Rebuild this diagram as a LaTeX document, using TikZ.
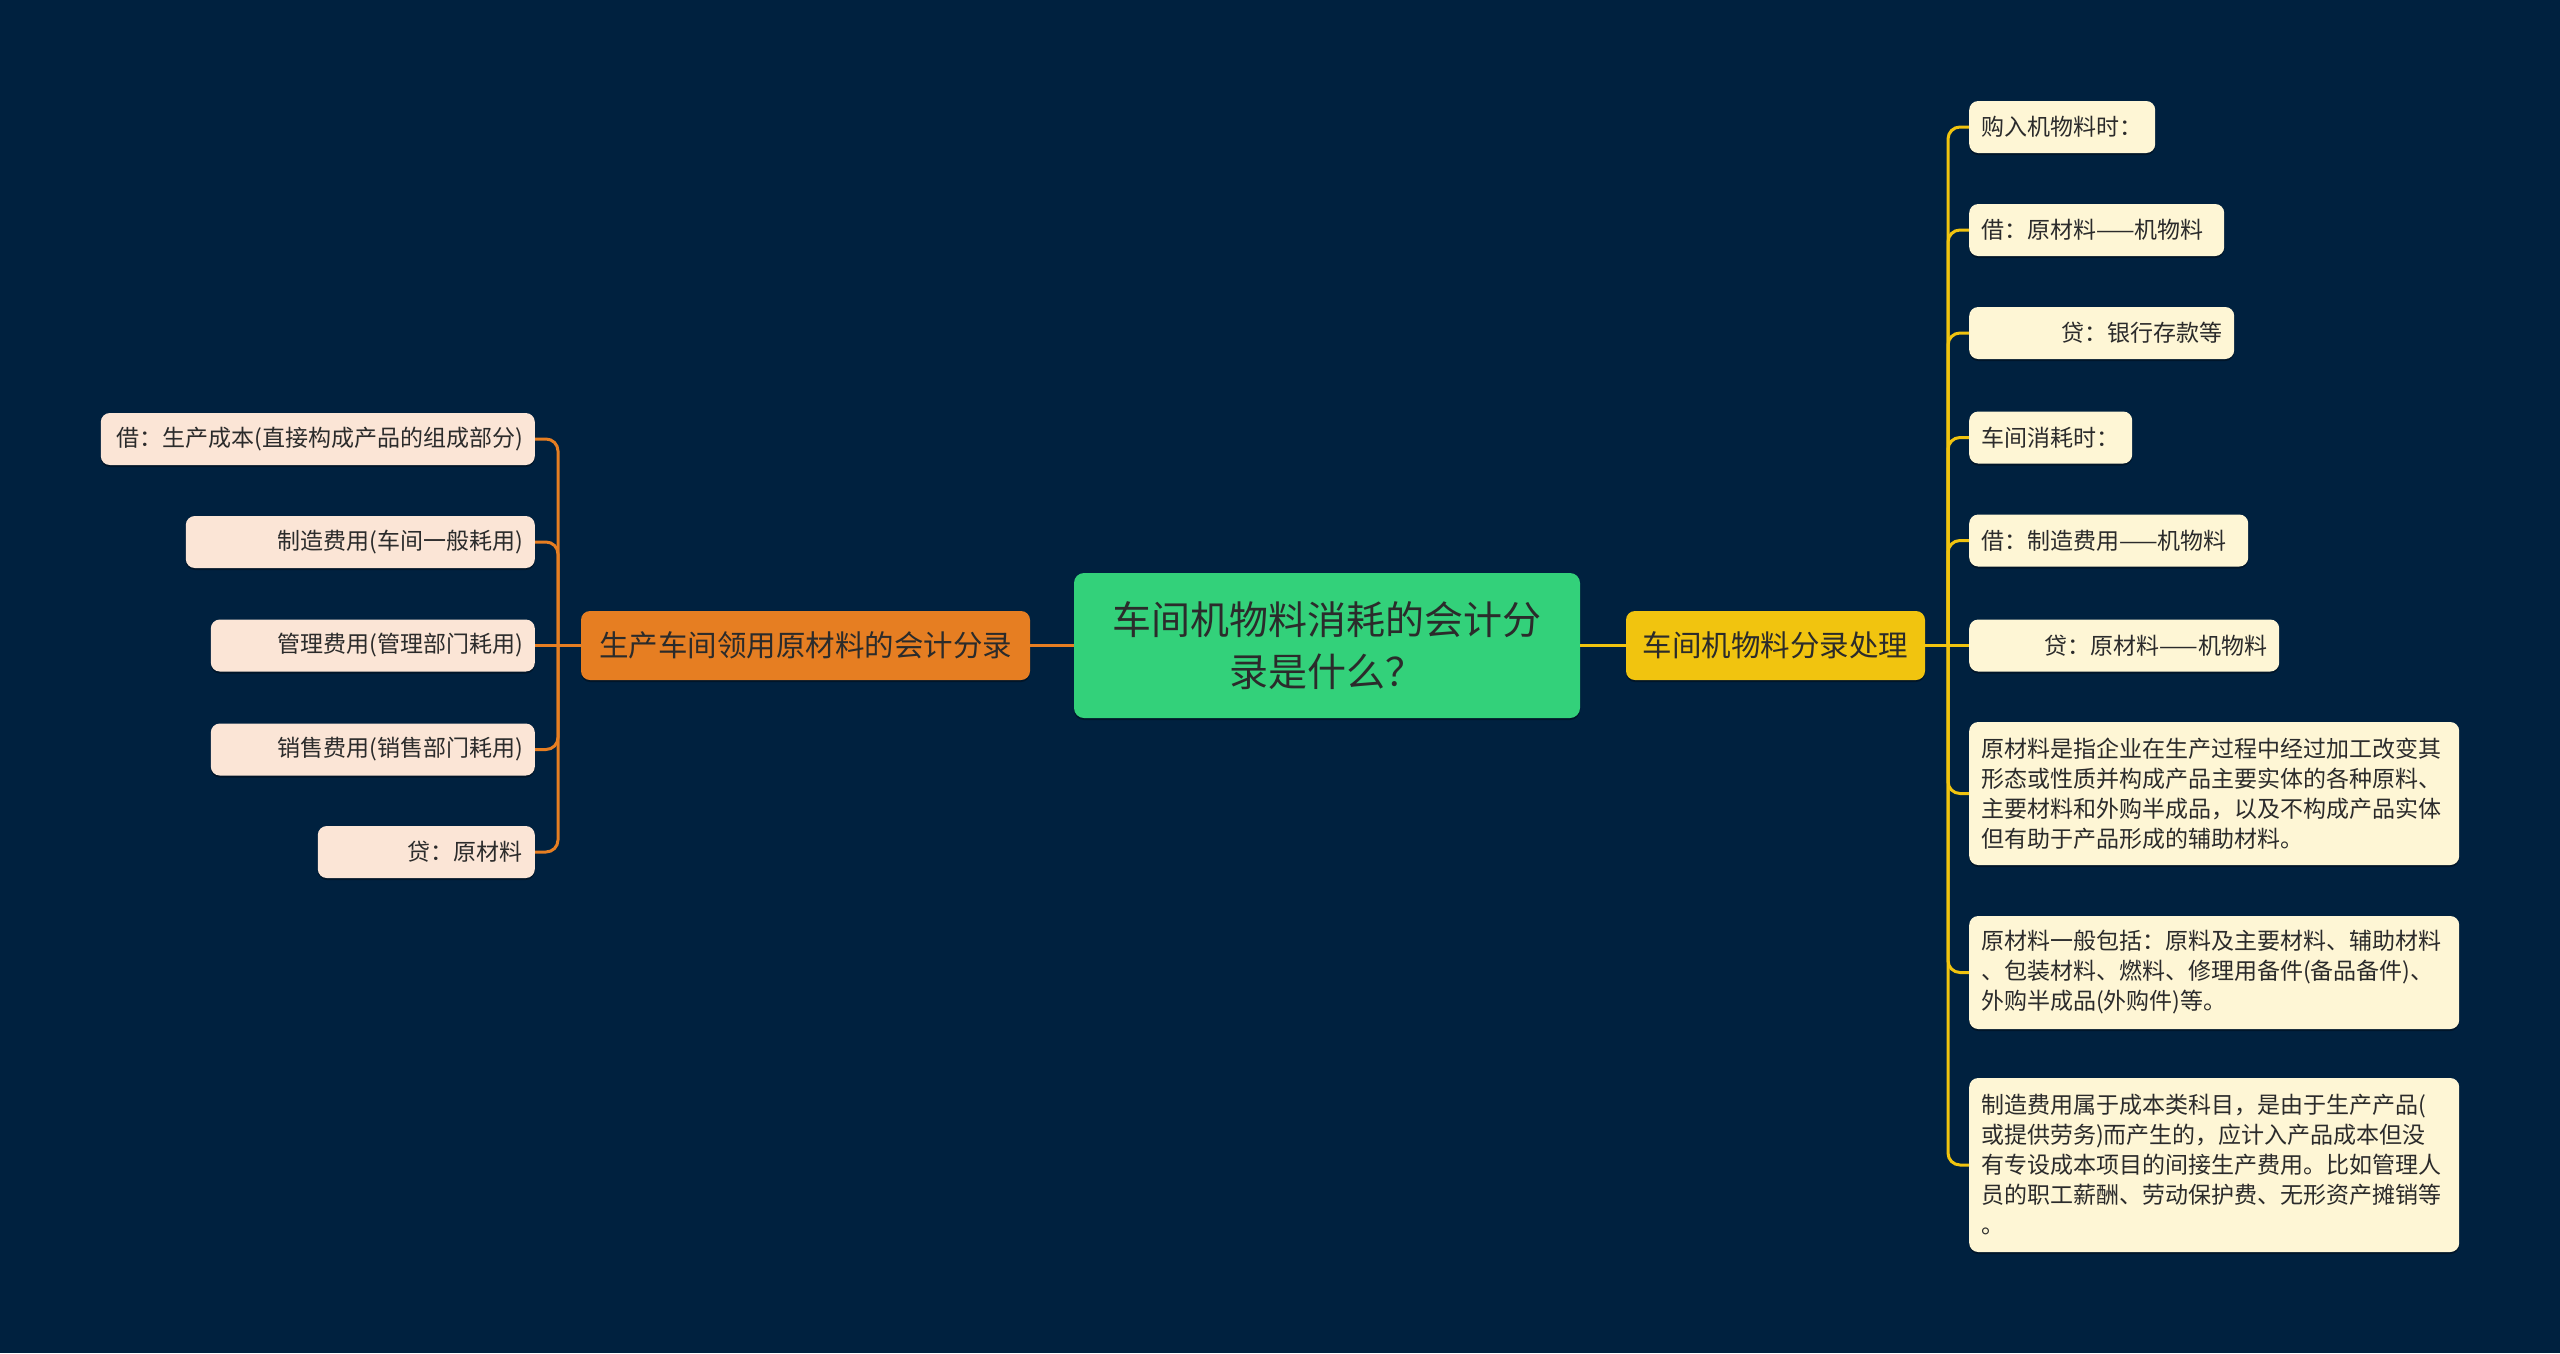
\documentclass[tikz,border=0pt]{standalone}
\usepackage{fontspec}
\setmainfont{Noto Sans CJK SC}
\usetikzlibrary{shadows}
\definecolor{bg}{HTML}{00213F}
\definecolor{cgreen}{HTML}{33D17A}
\definecolor{cyellow}{HTML}{F1C40F}
\definecolor{corange}{HTML}{E67E22}
\definecolor{lfill}{HTML}{FBE5D6}
\definecolor{rfill}{HTML}{FEF6D5}
\definecolor{txt}{HTML}{2B2B2B}
\begin{document}
\begin{tikzpicture}[x=1pt,y=-1pt,
  box/.style={rounded corners=9pt, inner xsep=12pt, inner ysep=0pt, text=txt,
    drop shadow={shadow xshift=0pt, shadow yshift=-2pt, opacity=0.35, fill=black}},
  lleaf/.style={box, fill=lfill, anchor=east, minimum height=52pt, align=right, font=\fontsize{23}{30}\selectfont},
  rleaf/.style={box, fill=rfill, anchor=west, minimum height=52pt, align=left, font=\fontsize{23}{30}\selectfont},
  mid/.style={box, minimum height=69pt, inner xsep=16pt, align=center, font=\fontsize{29.5}{36}\selectfont},
  oline/.style={draw=corange, line width=3pt},
  yline/.style={draw=cyellow, line width=3pt},
]
\useasboundingbox[fill=bg] (0,0) rectangle (2560,1353);

% center
\node[box, fill=cgreen, rounded corners=10pt, minimum width=506pt, minimum height=145pt,
  text width=440pt, align=center, font=\fontsize{39}{52}\selectfont] (C) at (1327,645.5)
  {车间机物料消耗的会计分\\录是什么？};

% main branches
\node[mid, fill=corange, text width=417pt] (O) at (805.5,645.5) {生产车间领用原材料的会计分录};
\node[mid, fill=cyellow, text width=267pt] (Y) at (1775.5,645.5) {车间机物料分录处理};

\coordinate (lt) at (558,645.5);
\coordinate (rt) at (1948,645.5);

% left leaves
\node[lleaf, text width=410pt] (l1) at (535,439) {借：生产成本(直接构成产品的组成部分)};
\node[lleaf, text width=325pt] (l2) at (535,542) {制造费用(车间一般耗用)};
\node[lleaf, text width=300pt] (l3) at (535,645.5) {管理费用(管理部门耗用)};
\node[lleaf, text width=300pt] (l4) at (535,749.5) {销售费用(销售部门耗用)};
\node[lleaf, text width=193pt] (l5) at (535,852) {贷：原材料};

% right leaves
\node[rleaf, text width=162pt] (r1) at (1969,127) {购入机物料时：};
\node[rleaf, text width=231pt] (r2) at (1969,230) {借：原材料——机物料};
\node[rleaf, text width=241pt, align=right] (r3) at (1969,333) {贷：银行存款等};
\node[rleaf, text width=139pt] (r4) at (1969,437.5) {车间消耗时：};
\node[rleaf, text width=255pt] (r5) at (1969,540.5) {借：制造费用——机物料};
\node[rleaf, text width=286pt, align=right] (r6) at (1969,645.5) {贷：原材料——机物料};
\node[rleaf, text width=466pt, minimum height=143pt] (r7) at (1969,793.5)
  {原材料是指企业在生产过程中经过加工改变其\\形态或性质并构成产品主要实体的各种原料、\\主要材料和外购半成品，以及不构成产品实体\\但有助于产品形成的辅助材料。};
\node[rleaf, text width=466pt, minimum height=113pt] (r8) at (1969,972.5)
  {原材料一般包括：原料及主要材料、辅助材料\\、包装材料、燃料、修理用备件(备品备件)、\\外购半成品(外购件)等。};
\node[rleaf, text width=466pt, minimum height=174pt] (r9) at (1969,1165)
  {制造费用属于成本类科目，是由于生产产品(\\或提供劳务)而产生的，应计入产品成本但没\\有专设成本项目的间接生产费用。比如管理人\\员的职工薪酬、劳动保护费、无形资产摊销等\\。};

% connectors
\draw[oline] (C.west) -- (O.east);
\draw[yline] (C.east) -- (Y.west);
\draw[oline] (O.west) -- (l3.east);
\draw[yline] (Y.east) -- (r6.west);
\foreach \n in {l1,l2,l4,l5}
  \draw[oline, rounded corners=12pt] (lt) |- (\n.east);
\foreach \n in {r1,r2,r3,r4,r5,r7,r8,r9}
  \draw[yline, rounded corners=12pt] (rt) |- (\n.west);
\end{tikzpicture}
\end{document}
